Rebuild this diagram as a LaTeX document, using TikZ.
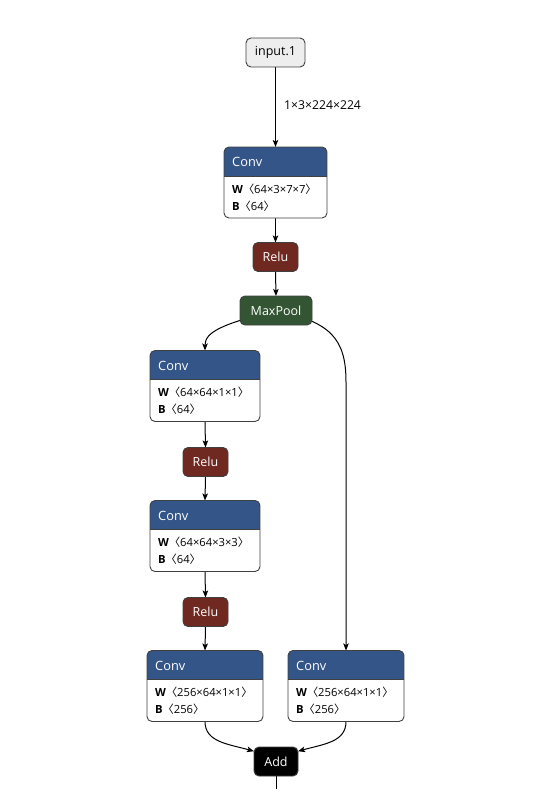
\documentclass[tikz,border=0pt]{standalone}
\usepackage{fontspec}
\setmainfont{Open Sans}
\newfontfamily\cjkfont{Noto Sans CJK SC}
\usetikzlibrary{arrows.meta,calc,backgrounds}

\definecolor{layerblue}{RGB}{51,85,136}
\definecolor{actred}{RGB}{112,41,33}
\definecolor{poolgreen}{RGB}{51,85,51}
\definecolor{inputgray}{RGB}{238,238,238}
\definecolor{framegray}{RGB}{64,64,64}

\tikzset{
  opnode/.style={rounded corners=5pt, draw=framegray, line width=0.9pt,
    minimum height=29pt, inner sep=0pt, outer sep=0pt, text=white,
    font=\fontsize{12.5}{14}\selectfont},
  inputnode/.style={opnode, fill=inputgray, text=black},
  actnode/.style={opnode, fill=actred},
  poolnode/.style={opnode, fill=poolgreen},
  addnode/.style={opnode, fill=black},
  convframe/.style={inner sep=0pt, outer sep=0pt, minimum height=71pt},
  convtitle/.style={anchor=base west, inner sep=0pt, text=white,
    font=\fontsize{12.8}{14}\selectfont},
  convattr/.style={anchor=base west, inner sep=0pt, text=black,
    font=\fontsize{11.2}{13}\selectfont},
  edge/.style={draw=black, line width=1pt,
    -{Stealth[length=7pt,width=5.5pt,inset=1.5pt]}},
  plainedge/.style={draw=black, line width=1pt},
  shapelabel/.style={anchor=west, inner sep=0pt,
    font=\fontsize{12.2}{14}\selectfont}
}

% Conv layer: name, centre x, top y, width, weight shape, bias shape
\newcommand\convlayer[6]{%
  \node[convframe, minimum width=#4pt, anchor=north] (#1) at (#2,#3) {};
  \fill[white, rounded corners=5pt] (#1.north west) rectangle (#1.south east);
  \begin{scope}
    \clip[rounded corners=5pt] (#1.north west) rectangle (#1.south east);
    \fill[layerblue] (#1.north west) rectangle ($(#1.north east)+(0,-29pt)$);
  \end{scope}
  \draw[framegray, line width=0.6pt] ($(#1.north west)+(0,-29pt)$) -- ($(#1.north east)+(0,-29pt)$);
  \draw[framegray, line width=0.9pt, rounded corners=5pt] (#1.north west) rectangle (#1.south east);
  \node[convtitle] (#1-title) at ($(#1.north west)+(8pt,-19.5pt)$) {Conv};
  \node[convattr] (#1-w) at ($(#1.north west)+(8pt,-46.3pt)$)
    {\textbf{W}{\cjkfont 〈}#5{\cjkfont 〉}};
  \node[convattr] (#1-b) at ($(#1.north west)+(8pt,-63pt)$)
    {\textbf{B}{\cjkfont 〈}#6{\cjkfont 〉}};
}

\begin{document}
\begin{tikzpicture}[x=1pt, y=-1pt]
  \useasboundingbox (0,0) rectangle (541,789);

  % operator nodes
  \node[inputnode, minimum width=59pt] (in) at (275.5,52.5) {input.1};
  \convlayer{c1}{275.5}{147}{103}{64×3×7×7}{64}
  \node[actnode, minimum width=45pt] (r1) at (275.5,257) {Relu};
  \node[poolnode, minimum width=72pt] (mp) at (276,310.5) {MaxPool};
  \convlayer{c2}{205}{350.5}{110}{64×64×1×1}{64}
  \node[actnode, minimum width=45pt] (r2) at (205.5,462) {Relu};
  \convlayer{c3}{205}{500.5}{110}{64×64×3×3}{64}
  \node[actnode, minimum width=45pt] (r3) at (205.5,612) {Relu};
  \convlayer{c4}{205}{650.5}{116}{256×64×1×1}{256}
  \convlayer{c5}{346}{650.5}{116}{256×64×1×1}{256}
  \node[addnode, minimum width=44pt] (add) at (276,761.5) {Add};
  \coordinate (out) at (276,789);

  % tensor shape on the input edge
  \node[shapelabel] (inshape) at (284,105.5) {1×3×224×224};

  % connectors
  \begin{scope}[on background layer]
    \draw[edge] (in.south) -- (c1.north);
    \draw[edge] (c1.south) -- (r1.north);
    \draw[edge] (r1.south) -- (mp.north);
    \draw[edge] (mp.center) .. controls (222,324) and (205,332) .. (c2.north);
    \draw[edge] (mp.center) .. controls (330,322) and (346,338) .. (346,382) -- (c5.north);
    \draw[edge] (c2.south) -- (r2.north);
    \draw[edge] (r2.south) -- (c3.north);
    \draw[edge] (c3.south) -- (r3.north);
    \draw[edge] (r3.south) -- (c4.north);
    \draw[edge] (c4.south) .. controls (205,742) and (228,744) .. (add.155);
    \draw[edge] (c5.south) .. controls (346,742) and (324,744) .. (add.25);
    \draw[plainedge] (add.south) -- (out);
  \end{scope}
\end{tikzpicture}
\end{document}
